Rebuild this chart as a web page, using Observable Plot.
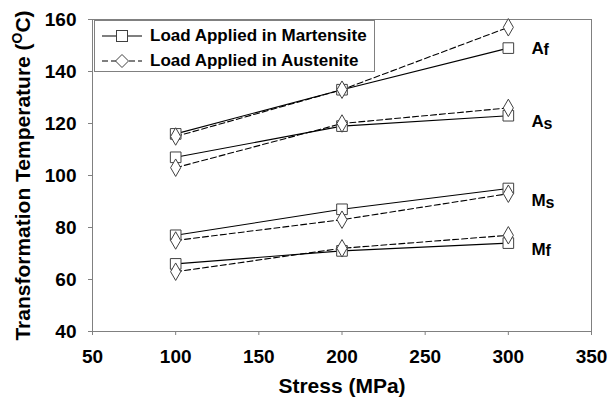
<!DOCTYPE html>
<html>
<head>
<meta charset="utf-8">
<script src="https://cdn.jsdelivr.net/npm/d3@7"></script>
<script src="https://cdn.jsdelivr.net/npm/@observablehq/plot@0.6"></script>
<style>
  html, body { margin: 0; padding: 0; background: white; }
  #wrap { position: relative; width: 610px; height: 404px; font-family: "Liberation Sans", Arial, sans-serif; }
  #legend { position: absolute; left: 94px; top: 20px; width: 281px; height: 52px; border: 1px solid #808080; background: white; box-sizing: border-box; }
  #legend .row { position: absolute; left: 0; height: 24px; display: flex; align-items: center; font-weight: bold; font-size: 17px; color: black; white-space: nowrap; }
  #legend svg { margin-left: 7px; margin-right: 8px; }
</style>
</head>
<body>
<div id="wrap">
  <div id="chart"></div>
  <div id="legend"></div>
</div>
<script>
// ---- data ----
const stress = [100, 200, 300];
const phases = ["Af", "As", "Ms", "Mf"];
// Load applied in martensite (squares, solid lines)
const martensite = [
  [116, 133, 149],
  [107, 119, 123],
  [77, 87, 95],
  [66, 71, 74]
];
// Load applied in austenite (diamonds, dashed lines)
const austenite = [
  [115, 133, 157],
  [103, 120, 126],
  [75, 83, 93],
  [63, 72, 77]
];
const seriesNames = ["Load Applied in Martensite", "Load Applied in Austenite"];
// phase annotation labels (main letter + lowered letter)
const labelMain = ["A", "A", "M", "M"];
const labelSub = ["f", "s", "s", "f"];
const labelStress = 314;
const labelTemp = [149, 120.7, 90.4, 71.7];
const xTicks = [50, 100, 150, 200, 250, 300, 350];
const yTicks = [40, 60, 80, 100, 120, 140, 160];

// ---- build tables ----
function rows(matrix, load) {
  const out = [];
  matrix.forEach((vals, i) => vals.forEach((v, j) => out.push({load, phase: phases[i], stress: stress[j], temp: v})));
  return out;
}
const mRows = rows(martensite, seriesNames[0]);
const aRows = rows(austenite, seriesNames[1]);
const labels = phases.map((p, i) => ({main: labelMain[i], sub: labelSub[i], stress: labelStress, temp: labelTemp[i]}));

const font = '"Liberation Sans", Arial, sans-serif';
const chart = Plot.plot({
  width: 610,
  height: 404,
  marginLeft: 92,
  marginRight: 19,
  marginTop: 19,
  marginBottom: 73,
  style: {fontFamily: font, fontWeight: "bold", background: "white", color: "black", overflow: "visible"},
  x: {domain: [50, 350]},
  y: {domain: [40, 160]},
  marks: [
    Plot.frame({stroke: "#808080", strokeWidth: 1}),
    Plot.axisX({ticks: xTicks, tickSize: 4, tickPadding: 14, stroke: "#808080", fill: "black", fontSize: 19, label: null, tickFormat: d => String(d)}),
    Plot.axisX([], {label: "Stress (MPa)", labelAnchor: "center", labelArrow: "none", labelOffset: 61, fontSize: 21, fill: "black", tickSize: 0}),
    Plot.axisY({ticks: yTicks, tickSize: 4, tickPadding: 12, stroke: "#808080", fill: "black", fontSize: 19, label: null, tickFormat: d => String(d)}),
    Plot.axisY([], {label: "Transformation Temperature (OC)", labelAnchor: "center", labelArrow: "none", labelOffset: 77, fontSize: 21, fill: "black", tickSize: 0}),
    Plot.line(mRows, {x: "stress", y: "temp", z: "phase", stroke: "black", strokeWidth: 1.1}),
    Plot.line(aRows, {x: "stress", y: "temp", z: "phase", stroke: "black", strokeWidth: 1.1, strokeDasharray: "6,3"}),
    Plot.dot(mRows, {x: "stress", y: "temp", symbol: "square", r: 6, fill: "white", stroke: "#404040", strokeWidth: 1}),
    Plot.dot(aRows, {x: "stress", y: "temp", symbol: "diamond", r: 5.3, fill: "white", stroke: "#404040", strokeWidth: 1}),
    Plot.text(labels, {x: "stress", y: "temp", text: "main", textAnchor: "start", fontSize: 17, fill: "black"}),
    Plot.text(labels, {filter: d => d.main === "A", x: "stress", y: "temp", text: "sub", textAnchor: "start", fontSize: 16, fill: "black", dy: 2, dx: 12}),
    Plot.text(labels, {filter: d => d.main === "M", x: "stress", y: "temp", text: "sub", textAnchor: "start", fontSize: 16, fill: "black", dy: 2, dx: 14})
  ]
});
document.getElementById("chart").appendChild(chart);

// superscript "o" in the y-axis title
d3.select(chart).selectAll("text").each(function () {
  const t = d3.select(this);
  if (t.text().includes("Transformation Temperature")) {
    t.text(null);
    t.append("tspan").text("Transformation Temperature (");
    t.append("tspan").attr("baseline-shift", "super").attr("font-size", 14).text("O");
    t.append("tspan").text("C)");
  }
});

// legend
const legend = document.getElementById("legend");
const sym = [
  '<svg width="40" height="14"><line x1="0" y1="7" x2="40" y2="7" stroke="black" stroke-width="1.1"/><rect x="14.5" y="1.5" width="11" height="11" fill="white" stroke="#404040"/></svg>',
  '<svg width="40" height="16"><line x1="0" y1="8" x2="40" y2="8" stroke="black" stroke-width="1.1" stroke-dasharray="6,3"/><path d="M20,1.5L26.5,8L20,14.5L13.5,8Z" fill="white" stroke="#404040"/></svg>'
];
seriesNames.forEach((name, i) => {
  const row = document.createElement("div");
  row.className = "row";
  row.style.top = (i === 0 ? 3 : 28) + "px";
  row.innerHTML = sym[i] + "<span>" + name + "</span>";
  legend.appendChild(row);
});
</script>
</body>
</html>
